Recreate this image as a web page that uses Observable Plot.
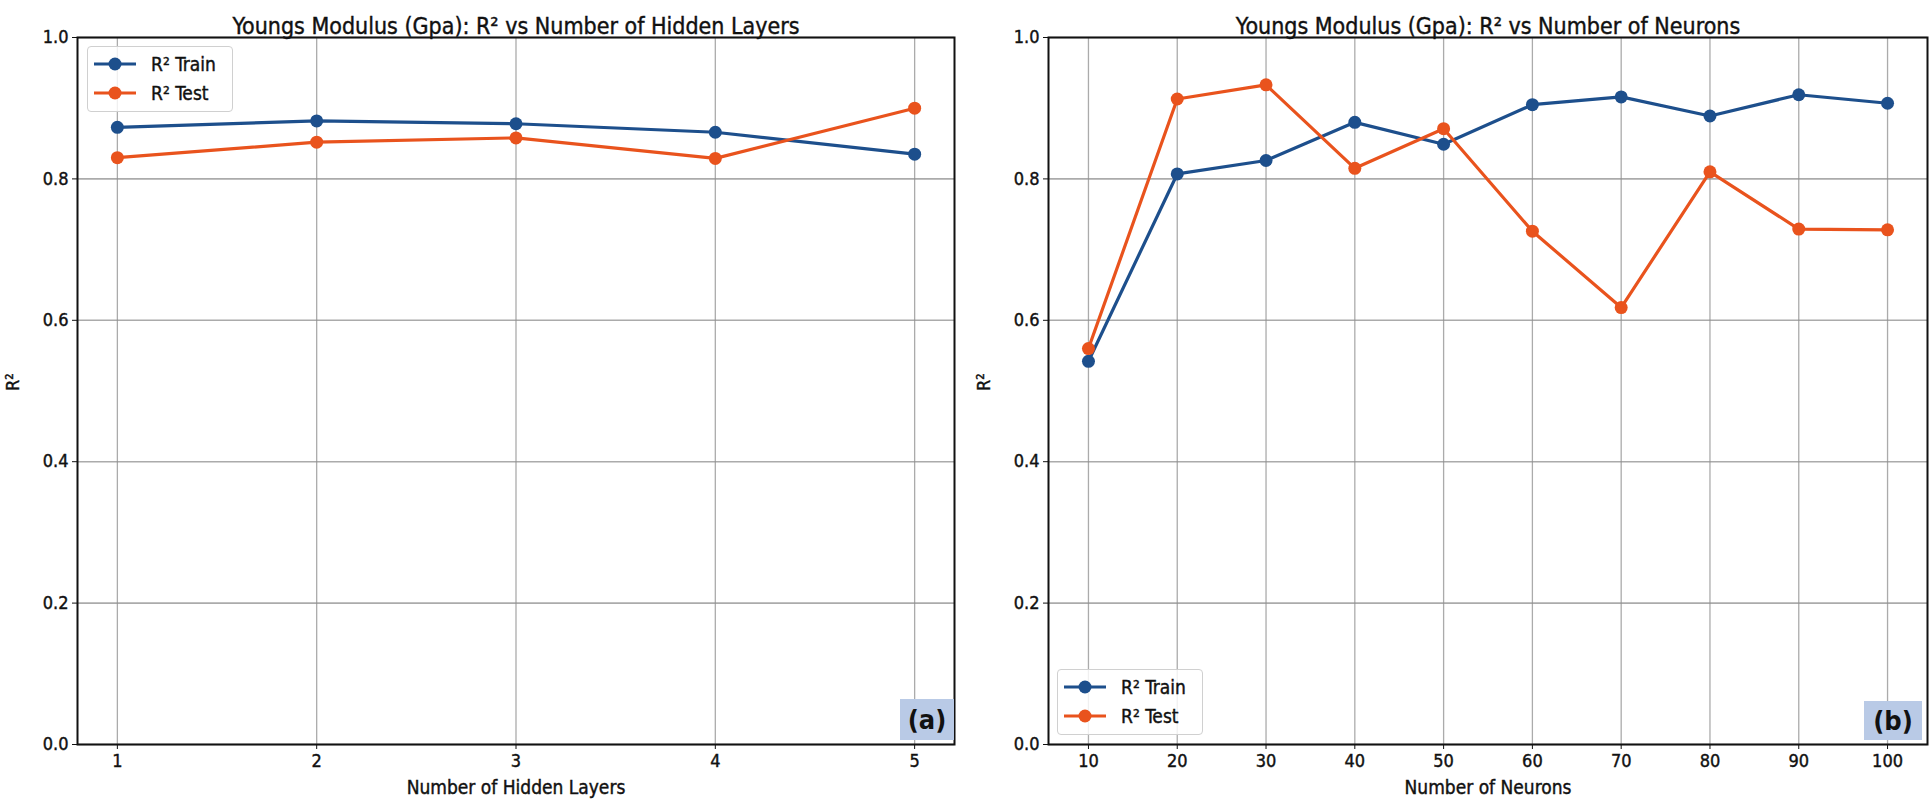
<!DOCTYPE html>
<html>
<head>
<meta charset="utf-8">
<script src="https://cdn.jsdelivr.net/npm/d3@7"></script>
<script src="https://cdn.jsdelivr.net/npm/@observablehq/plot@0.6"></script>
<style>
  html, body { margin: 0; padding: 0; background: #fff; }
  #wrap { position: relative; width: 1930px; height: 811px; overflow: hidden;
          font-family: "DejaVu Sans Condensed", "DejaVu Sans", sans-serif; color: #111; }
  #wrap svg text { stroke: #111; stroke-width: 0.4px; }
  .panel { position: absolute; top: 0; }
  .legend { position: absolute; background: rgba(255,255,255,0.82); border: 1px solid #d0d0d0;
            border-radius: 4px; box-sizing: border-box; }
  .legend svg { position: absolute; left: 0; top: 0; }
  .tag { position: absolute; background: #b9cae6; font-weight: bold; font-size: 27px;
         display: flex; align-items: center; justify-content: center; color: #111; }
</style>
</head>
<body>
<div id="wrap"></div>
<script>
// ---------- data ----------
const hiddenLayers = [1, 2, 3, 4, 5];
const layersTrain = [0.873, 0.882, 0.878, 0.866, 0.835];
const layersTest  = [0.830, 0.852, 0.858, 0.829, 0.900];

const neurons = [10, 20, 30, 40, 50, 60, 70, 80, 90, 100];
const neuronsTrain = [0.542, 0.807, 0.826, 0.880, 0.849, 0.905, 0.916, 0.889, 0.919, 0.907];
const neuronsTest  = [0.560, 0.913, 0.933, 0.815, 0.871, 0.726, 0.618, 0.810, 0.729, 0.728];

const yTicks = [0.0, 0.2, 0.4, 0.6, 0.8, 1.0];
const seriesNames = ["R² Train", "R² Test"];
const seriesColors = ["#1d4f8c", "#e9531d"];

const FONT = '"DejaVu Sans Condensed", "DejaVu Sans", sans-serif';

function panel({xs, train, test, title, xlabel, marginLeft, marginRight}) {
  const rows = [];
  xs.forEach((x, i) => {
    rows.push({x, v: train[i], s: seriesNames[0]});
    rows.push({x, v: test[i], s: seriesNames[1]});
  });
  const lo = d3.min(xs), hi = d3.max(xs), pad = (hi - lo) * 0.05;
  return Plot.plot({
    width: 965, height: 811,
    marginTop: 37, marginBottom: 67, marginLeft, marginRight,
    style: {fontFamily: FONT, fontSize: "18px", color: "#111", background: "transparent", overflow: "visible"},
    x: {domain: [lo - pad, hi + pad], ticks: xs, tickFormat: d => String(d)},
    y: {domain: [0, 1], ticks: yTicks, tickFormat: d3.format(".1f")},
    color: {domain: seriesNames, range: seriesColors},
    marks: [
      Plot.gridX(xs, {stroke: "#8f8f8f", strokeOpacity: 0.75, strokeWidth: 1.3}),
      Plot.gridY(yTicks, {stroke: "#8f8f8f", strokeOpacity: 0.75, strokeWidth: 1.6}),
      Plot.axisX(xs, {tickSize: 5, tickPadding: 5, label: null, fontSize: 18, tickFormat: d => String(d)}),
      Plot.axisY(yTicks, {tickSize: 5, tickPadding: 4, label: null, fontSize: 18, tickFormat: d3.format(".1f")}),
      Plot.line(rows, {x: "x", y: "v", z: "s", stroke: "s", strokeWidth: 3.2}),
      Plot.dot(rows, {x: "x", y: "v", fill: "s", r: 6.5}),
      Plot.frame({stroke: "#111", strokeWidth: 2}),
      Plot.text([title], {frameAnchor: "top", dy: -20, fontSize: 23, fill: "#111"}),
      Plot.text([xlabel], {frameAnchor: "bottom", dy: 49, fontSize: 19, fill: "#111"}),
      Plot.text(["R²"], {frameAnchor: "left", dx: -64, rotate: -90, fontSize: 18, fill: "#111"})
    ]
  });
}

function legend(left, top) {
  const div = document.createElement("div");
  div.className = "legend";
  Object.assign(div.style, {left: left + "px", top: top + "px", width: "146px", height: "66px"});
  const svg = d3.create("svg").attr("width", 146).attr("height", 66);
  seriesNames.forEach((name, i) => {
    const y = 17 + i * 29;
    svg.append("line").attr("x1", 6).attr("x2", 48).attr("y1", y).attr("y2", y)
      .attr("stroke", seriesColors[i]).attr("stroke-width", 3.2);
    svg.append("circle").attr("cx", 27).attr("cy", y).attr("r", 6.5).attr("fill", seriesColors[i]);
    svg.append("text").attr("x", 63).attr("y", y).attr("dy", "0.35em")
      .attr("font-family", FONT).attr("font-size", 19).attr("fill", "#111").text(name);
  });
  div.appendChild(svg.node());
  return div;
}

function tag(label, left, top, w, h) {
  const div = document.createElement("div");
  div.className = "tag";
  Object.assign(div.style, {left: left + "px", top: top + "px", width: w + "px", height: h + "px"});
  div.textContent = label;
  return div;
}

const wrap = document.getElementById("wrap");

const pA = panel({xs: hiddenLayers, train: layersTrain, test: layersTest,
  title: "Youngs Modulus (Gpa): R² vs Number of Hidden Layers",
  xlabel: "Number of Hidden Layers", marginLeft: 77, marginRight: 11});
pA.classList.add("panel"); pA.style.left = "0px";
wrap.appendChild(pA);

const pB = panel({xs: neurons, train: neuronsTrain, test: neuronsTest,
  title: "Youngs Modulus (Gpa): R² vs Number of Neurons",
  xlabel: "Number of Neurons", marginLeft: 83, marginRight: 3});
pB.classList.add("panel"); pB.style.left = "965px";
wrap.appendChild(pB);

wrap.appendChild(legend(87, 46));
wrap.appendChild(legend(1057, 669));
wrap.appendChild(tag("(a)", 900, 699, 54, 41));
wrap.appendChild(tag("(b)", 1864, 701, 58, 39));
</script>
</body>
</html>
